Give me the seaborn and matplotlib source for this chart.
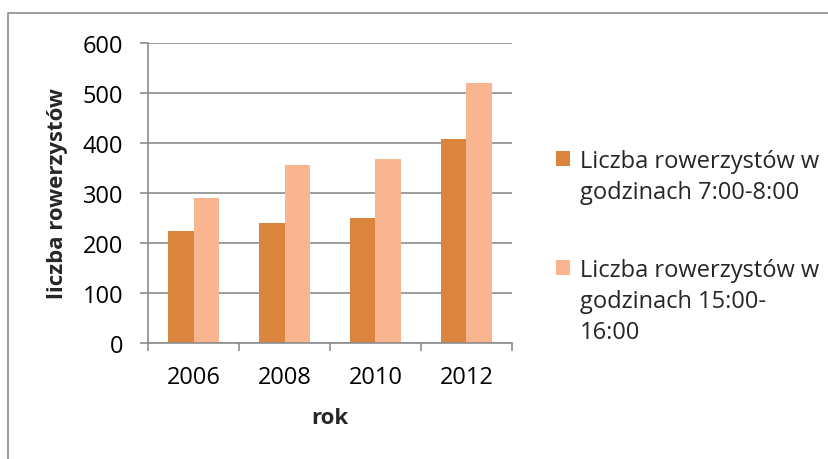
import matplotlib
matplotlib.use("Agg")
import matplotlib.pyplot as plt
import seaborn as sns
import pandas as pd
from matplotlib.patches import Patch
from matplotlib.lines import Line2D

years = ["2006", "2008", "2010", "2012"]
morning = [225, 240, 250, 408]
afternoon = [290, 357, 369, 520]
series_names = ["Liczba rowerzystów w godzinach 7:00-8:00",
                "Liczba rowerzystów w godzinach 15:00-16:00"]
legend_lines = [["Liczba rowerzystów w", "godzinach 7:00-8:00"],
                ["Liczba rowerzystów w", "godzinach 15:00-", "16:00"]]
colors = ["#DB843D", "#F8B590"]
y_ticks = [0, 100, 200, 300, 400, 500, 600]

df = pd.DataFrame({
    "rok": years * 2,
    "wartosc": morning + afternoon,
    "seria": [series_names[0]] * 4 + [series_names[1]] * 4,
})

sns.set_theme(style="white")
plt.rcParams["font.family"] = ["Open Sans", "DejaVu Sans"]

FS = 17
fig = plt.figure(figsize=(8.29, 4.6), dpi=100)
ax = fig.add_axes([148 / 829, 1 - 344 / 460, (512 - 148) / 829, 300 / 460])

sns.barplot(data=df, x="rok", y="wartosc", hue="seria", palette=colors,
            width=0.57, ax=ax, legend=False, saturation=1, edgecolor="none")

grid_c = "#8C8C8C"
ax.set_ylim(0, 600)
ax.set_xlim(-0.5, 3.5)
ax.set_yticks(y_ticks)
ax.set_yticklabels([str(t) for t in y_ticks], fontsize=FS, color="black")
ax.yaxis.grid(True, color=grid_c, linewidth=1.2)
ax.set_axisbelow(True)
ax.tick_params(axis="y", length=6, width=1.2, color=grid_c, pad=12, left=True)
ax.set_xticks(range(len(years)))
ax.set_xticklabels(years, fontsize=FS, color="black")
ax.tick_params(axis="x", which="major", length=0, pad=16)
ax.set_xticks([-0.5, 0.5, 1.5, 2.5, 3.5], minor=True)
ax.tick_params(axis="x", which="minor", length=6, width=1.2, color=grid_c,
               bottom=True)

for s in ["top", "right"]:
    ax.spines[s].set_visible(False)
for s in ["left", "bottom"]:
    ax.spines[s].set_color(grid_c)
    ax.spines[s].set_linewidth(1.2)

ax.set_xlabel("rok", fontsize=16, fontweight="bold", labelpad=13)
ax.set_ylabel("liczba rowerzystów", fontsize=16, fontweight="bold", labelpad=10)

# legend (outside the plot, right side)
blank = Patch(visible=False)
tops = [1 - 150 / 460, 1 - 259 / 460]
for i, lines in enumerate(legend_lines):
    handles = [Patch(facecolor=colors[i], edgecolor="none")] + [blank] * (len(lines) - 1)
    fig.legend(handles, lines, loc="upper left",
               bbox_to_anchor=(556 / 829, tops[i]), frameon=False,
               fontsize=FS, handlelength=0.6, handleheight=0.6,
               handletextpad=0.4, borderpad=0, borderaxespad=0,
               labelspacing=0.3)

# outer chart border (top and left visible)
fig.add_artist(Line2D([8 / 829, 8 / 829, 1.0], [0.0, 1 - 14 / 460, 1 - 14 / 460],
                      transform=fig.transFigure, color="#8C8C8C", linewidth=1.2))

fig.savefig("out.png", dpi=100)
